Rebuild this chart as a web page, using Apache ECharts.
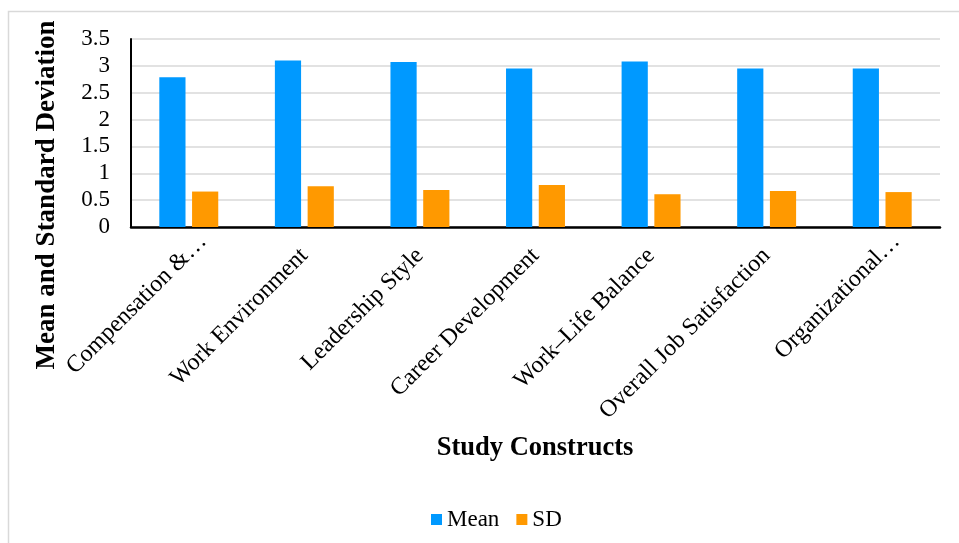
<!DOCTYPE html>
<html>
<head>
<meta charset="utf-8">
<script src="https://cdn.jsdelivr.net/npm/echarts@6/dist/echarts.min.js"></script>
<style>
  html, body { margin: 0; padding: 0; background: #ffffff; }
  #chart { width: 959px; height: 543px; }
</style>
</head>
<body>
<div id="chart"></div>
<script>
// Study constructs and their descriptive statistics
const constructs = [
  'Compensation &\u2026',
  'Work Environment',
  'Leadership Style',
  'Career Development',
  'Work\u2013Life Balance',
  'Overall Job Satisfaction',
  'Organizational\u2026'
];
const meanValues = [2.79, 3.10, 3.07, 2.95, 3.08, 2.95, 2.95];
const sdValues = [0.66, 0.76, 0.69, 0.78, 0.61, 0.67, 0.65];
const yTicks = { min: 0, max: 3.5, interval: 0.5 };

const serif = '"Liberation Serif", "Times New Roman", serif';

// Shortened (ellipsis) labels sit a little further along their slant
const categoryItems = constructs.map(function (name) {
  if (name.slice(-1) === '\u2026') {
    return { value: name, textStyle: { padding: [0, -20, 0, 0] } };
  }
  return name;
});

const chart = echarts.init(document.getElementById('chart'), null, { renderer: 'canvas' });

chart.setOption({
  animation: false,
  backgroundColor: '#ffffff',
  textStyle: { fontFamily: serif },
  grid: { left: 131, right: 19, top: 39, bottom: 316, containLabel: false },
  legend: {
    data: ['Mean', 'SD'],
    left: 426,
    top: 503,
    icon: 'rect',
    itemWidth: 11,
    itemHeight: 11,
    itemGap: 17,
    textStyle: { fontFamily: serif, fontSize: 23, color: '#000000', padding: [0, 0, 0, 0] }
  },
  xAxis: {
    type: 'category',
    data: categoryItems,
    axisLine: { show: true, lineStyle: { color: '#000000', width: 2.5 } },
    axisTick: { show: false },
    axisLabel: {
      interval: 0,
      rotate: 45,
      margin: 25,
      fontFamily: serif,
      fontSize: 24,
      color: '#000000'
    },
    splitLine: { show: false }
  },
  yAxis: {
    type: 'value',
    min: yTicks.min,
    max: yTicks.max,
    interval: yTicks.interval,
    axisLine: { show: true, lineStyle: { color: '#000000', width: 2 } },
    axisTick: { show: false },
    axisLabel: {
      margin: 21,
      fontFamily: serif,
      fontSize: 23,
      color: '#000000'
    },
    splitLine: { show: true, lineStyle: { color: '#d9d9d9', width: 1.5 } }
  },
  series: [
    {
      name: 'Mean',
      type: 'bar',
      data: meanValues,
      barGap: '25%',
      barCategoryGap: '49%',
      itemStyle: { color: '#0099ff' }
    },
    {
      name: 'SD',
      type: 'bar',
      data: sdValues,
      barGap: '25%',
      barCategoryGap: '49%',
      itemStyle: { color: '#ff9900' }
    }
  ],
  graphic: [
    {
      type: 'rect',
      silent: true,
      shape: { x: 8.5, y: 11.5, width: 960, height: 540 },
      style: { fill: 'none', stroke: '#d9d9d9', lineWidth: 1.5 }
    },
    {
      type: 'text',
      x: 47,
      y: 195,
      rotation: Math.PI / 2,
      style: {
        text: 'Mean and Standard Deviation',
        font: 'bold 27px ' + serif,
        fill: '#000000',
        textAlign: 'center',
        textVerticalAlign: 'middle'
      }
    },
    {
      type: 'text',
      x: 535,
      y: 448,
      style: {
        text: 'Study Constructs',
        font: 'bold 26.5px ' + serif,
        fill: '#000000',
        textAlign: 'center',
        textVerticalAlign: 'middle'
      }
    }
  ]
});
</script>
</body>
</html>
